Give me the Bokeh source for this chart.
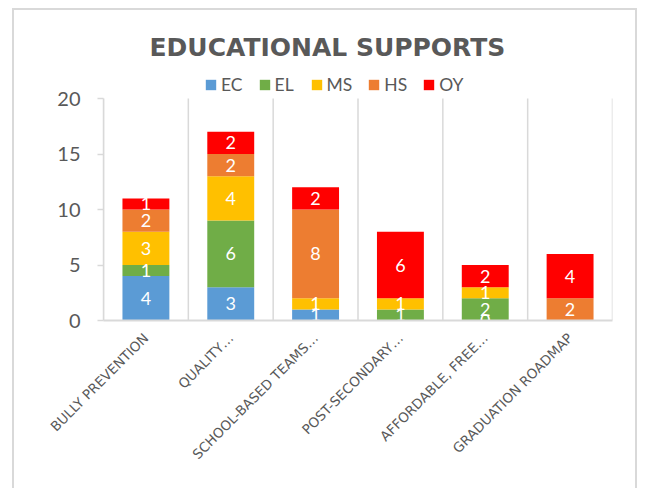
import math
from bokeh.plotting import figure
from bokeh.models import ColumnDataSource, FixedTicker, Legend, LegendItem
from bokeh.core.properties import value
from bokeh.embed import file_html
from bokeh.resources import INLINE

# ---- data ----
categories = ["BULLY PREVENTION", "QUALITY…", "SCHOOL-BASED TEAMS…",
              "POST-SECONDARY…", "AFFORDABLE, FREE…", "GRADUATION ROADMAP"]
series_names = ["EC", "EL", "MS", "HS", "OY"]
EC = [4, 3, 1, None, 0, None]
EL = [1, 6, None, 1, 2, None]
MS = [3, 4, 1, 1, 1, None]
HS = [2, 2, 8, None, None, 2]
OY = [1, 2, 2, 6, 2, 4]
series_values = [EC, EL, MS, HS, OY]
series_colors = ["#5B9BD5", "#70AD47", "#FFC000", "#ED7D31", "#FF0000"]
y_ticks = [0, 5, 10, 15, 20]
title_text = "EDUCATIONAL SUPPORTS"

TXT = "#595959"
GRID = "#D9D9D9"

# layout (pixels)
CW, CH = 625, 480
FL, FR, FT, FB = 89, 27, 60, 170
PLOT_H = 222                       # pixel height of the 0..20 value area
FRAME_H = CH - FT - FB             # frame also holds the legend row
y_end = y_ticks[-1] * FRAME_H / PLOT_H

p = figure(width=CW, height=CH, x_range=(0, len(categories)), y_range=(0, y_end),
           output_backend="svg", toolbar_location=None,
           min_border_left=FL, min_border_right=FR, min_border_top=FT, min_border_bottom=FB)
p.margin = (8, 0, 0, 12)
p.styles = {"border-top": "2px solid #D9D9D9", "border-left": "2px solid #D9D9D9",
            "border-right": "2px solid #D9D9D9"}
p.outline_line_color = None
p.background_fill_color = "white"
p.border_fill_color = "white"

xs = [i + 0.5 for i in range(len(categories))]

# vertical separators between categories
bounds_x = list(range(len(categories) + 1))
p.segment(x0=bounds_x, x1=bounds_x, y0=[y_ticks[0]] * len(bounds_x),
          y1=[y_ticks[-1]] * len(bounds_x), line_color=GRID, line_width=1.5)

bottoms = [0.0] * len(categories)
items = []
lab_x, lab_y, lab_t = [], [], []
for name, vals, col in zip(series_names, series_values, series_colors):
    tops = []
    bots = []
    for i, v in enumerate(vals):
        vv = v if v is not None else 0
        bots.append(bottoms[i])
        tops.append(bottoms[i] + vv)
        if v is not None:
            lab_x.append(xs[i])
            lab_y.append(bottoms[i] + vv / 2)
            lab_t.append(str(v))
        bottoms[i] += vv
    src = ColumnDataSource(dict(x=xs, top=tops, bottom=bots))
    r = p.vbar(x="x", top="top", bottom="bottom", width=0.553, source=src,
               fill_color=col, line_color=None)
    items.append(LegendItem(label=name, renderers=[r]))

lsrc = ColumnDataSource(dict(x=lab_x, y=lab_y, t=lab_t))
p.text(x="x", y="y", text="t", source=lsrc, text_color="white",
       text_font=value("Lato"), text_font_size="18px",
       text_align="center", text_baseline="middle")

legend = Legend(items=items, orientation="horizontal", location=(101, 225),
                label_text_font="Lato", label_text_font_size="17.5px",
                label_text_color=TXT, glyph_width=13, glyph_height=13,
                label_standoff=4, spacing=15, padding=4, margin=0,
                border_line_color=None, background_fill_alpha=0)
p.add_layout(legend)

p.title.text = title_text
p.title.text_font = "DejaVu Sans"
p.title.text_font_size = "25px"
p.title.text_font_style = "bold"
p.title.text_color = TXT
p.title.align = "left"
p.title.offset = 46
p.title.standoff = 17

# axes
p.xaxis.ticker = FixedTicker(ticks=xs)
p.xaxis.major_label_overrides = {x: c for x, c in zip(xs, categories)}
p.xaxis.major_label_orientation = math.pi / 4
p.xaxis.major_label_text_font = "DejaVu Sans"
p.xaxis.major_label_text_font_size = "13.5px"
p.xaxis.major_label_text_color = TXT
p.xaxis.major_label_standoff = 9
p.xaxis.axis_line_color = GRID
p.xaxis.axis_line_width = 2
p.xaxis.major_tick_line_color = None
p.xaxis.minor_tick_line_color = None

p.yaxis.ticker = FixedTicker(ticks=y_ticks)
p.yaxis.bounds = (y_ticks[0], y_ticks[-1])
p.yaxis.major_label_text_font = "Lato"
p.yaxis.major_label_text_font_size = "20px"
p.yaxis.major_label_text_color = TXT
p.yaxis.major_label_standoff = 17
p.yaxis.axis_line_color = GRID
p.yaxis.axis_line_width = 1.5
p.yaxis.major_tick_line_color = GRID
p.yaxis.major_tick_line_width = 1.5
p.yaxis.major_tick_out = 6
p.yaxis.major_tick_in = 0
p.yaxis.minor_tick_line_color = None

p.xgrid.grid_line_color = None
p.ygrid.grid_line_color = None

open("out.html", "w").write(file_html(p, INLINE))
